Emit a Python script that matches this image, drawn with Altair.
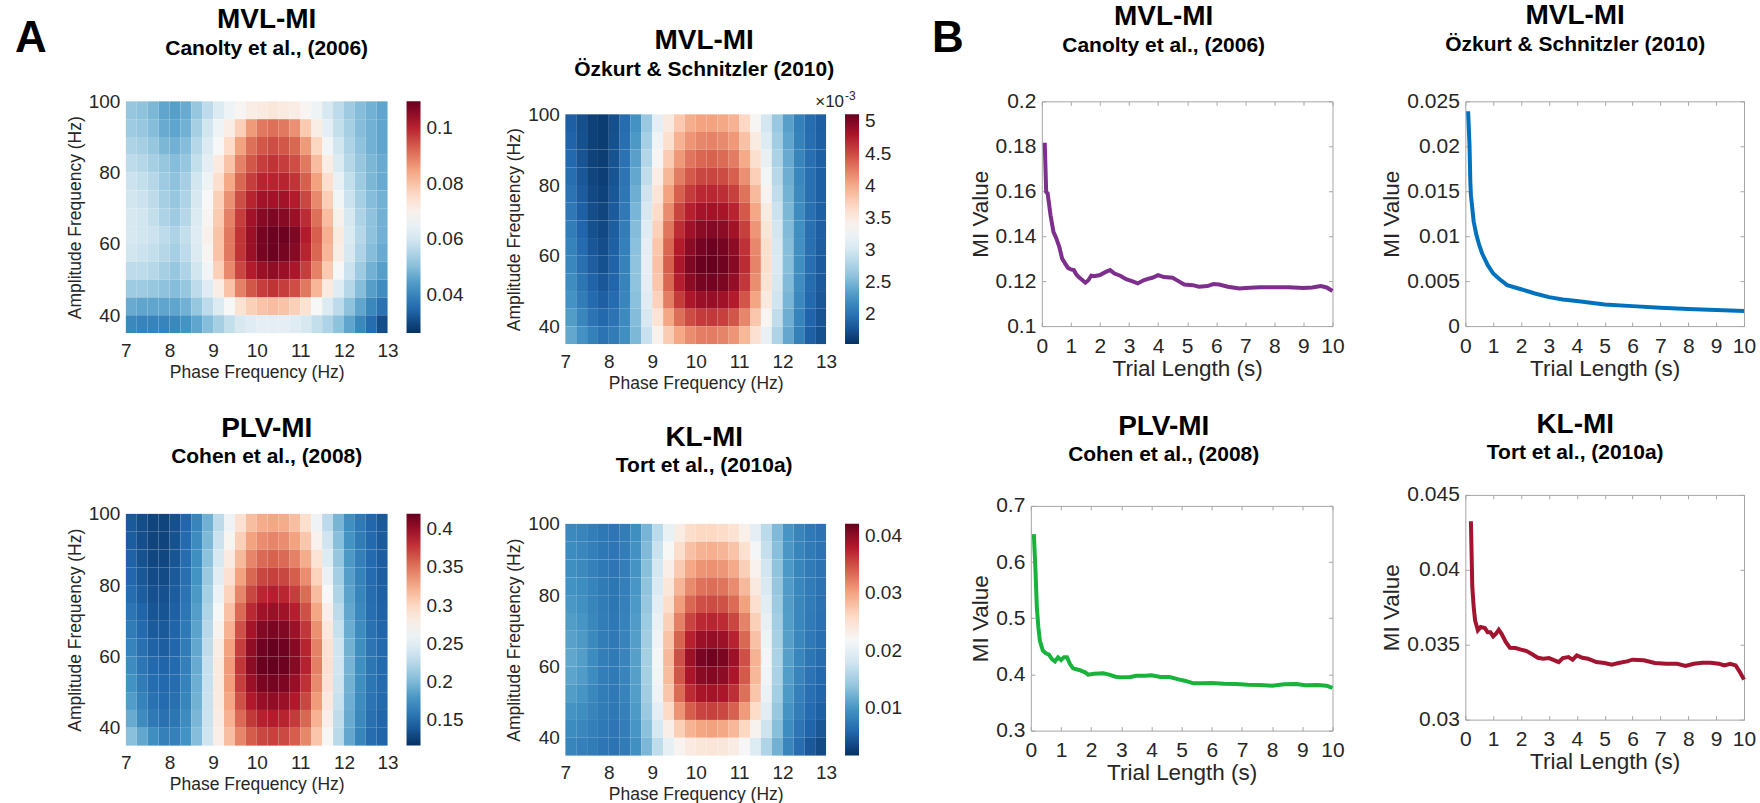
import altair as alt
import pandas as pd

FONT = "Liberation Sans"
INK = "#262626"
FRAME = "#a6a6a6"
LABEL_EXPR = "format(datum.value, '~g')"

# diverging red-blue colour steps, low (blue) to high (red)
RDBU = ["#053061", "#2166ac", "#4393c3", "#92c5de", "#d1e5f0", "#f7f7f7",
        "#fddbc7", "#f4a582", "#d6604d", "#b2182b", "#67001f"]

# ---- comodulogram grids: 0.25 Hz phase bins, 5 Hz amplitude bins (100 Hz row first) ----
PHASE_EDGES = [7.0, 7.25, 7.5, 7.75, 8.0, 8.25, 8.5, 8.75, 9.0, 9.25, 9.5, 9.75, 10.0,
               10.25, 10.5, 10.75, 11.0, 11.25, 11.5, 11.75, 12.0, 12.25, 12.5, 12.75, 13.0]
AMP_EDGES = [100, 95, 90, 85, 80, 75, 70, 65, 60, 55, 50, 45, 40, 35]

CANOLTY_GRID = [
    [0.052, 0.051, 0.049, 0.046, 0.045, 0.047, 0.052, 0.057, 0.062, 0.066, 0.069, 0.071, 0.072, 0.073, 0.072, 0.071, 0.069, 0.066, 0.061, 0.057, 0.053, 0.050, 0.048, 0.046],
    [0.053, 0.052, 0.050, 0.047, 0.046, 0.048, 0.054, 0.060, 0.066, 0.071, 0.078, 0.086, 0.090, 0.091, 0.090, 0.087, 0.079, 0.071, 0.064, 0.058, 0.054, 0.050, 0.048, 0.046],
    [0.055, 0.054, 0.052, 0.049, 0.048, 0.050, 0.056, 0.062, 0.068, 0.076, 0.085, 0.091, 0.094, 0.095, 0.094, 0.092, 0.086, 0.077, 0.067, 0.060, 0.055, 0.051, 0.048, 0.046],
    [0.057, 0.056, 0.054, 0.052, 0.050, 0.052, 0.058, 0.064, 0.072, 0.080, 0.089, 0.094, 0.097, 0.098, 0.097, 0.095, 0.090, 0.081, 0.071, 0.062, 0.056, 0.052, 0.049, 0.047],
    [0.059, 0.058, 0.056, 0.053, 0.051, 0.054, 0.060, 0.066, 0.075, 0.084, 0.092, 0.097, 0.100, 0.100, 0.100, 0.098, 0.093, 0.085, 0.075, 0.065, 0.058, 0.053, 0.049, 0.047],
    [0.060, 0.059, 0.057, 0.054, 0.052, 0.055, 0.061, 0.068, 0.078, 0.087, 0.095, 0.100, 0.103, 0.103, 0.103, 0.101, 0.096, 0.088, 0.078, 0.067, 0.059, 0.054, 0.050, 0.048],
    [0.061, 0.060, 0.058, 0.055, 0.053, 0.056, 0.062, 0.069, 0.079, 0.089, 0.097, 0.103, 0.106, 0.107, 0.106, 0.104, 0.099, 0.091, 0.081, 0.070, 0.061, 0.055, 0.051, 0.048],
    [0.061, 0.060, 0.059, 0.057, 0.055, 0.058, 0.063, 0.070, 0.080, 0.090, 0.098, 0.104, 0.108, 0.109, 0.109, 0.107, 0.101, 0.093, 0.083, 0.072, 0.062, 0.056, 0.051, 0.048],
    [0.060, 0.059, 0.058, 0.056, 0.054, 0.057, 0.062, 0.069, 0.080, 0.090, 0.098, 0.104, 0.108, 0.109, 0.108, 0.106, 0.100, 0.092, 0.082, 0.071, 0.061, 0.055, 0.050, 0.047],
    [0.057, 0.057, 0.056, 0.054, 0.052, 0.055, 0.060, 0.067, 0.078, 0.088, 0.096, 0.101, 0.104, 0.105, 0.104, 0.102, 0.097, 0.089, 0.079, 0.068, 0.059, 0.053, 0.048, 0.045],
    [0.053, 0.053, 0.052, 0.051, 0.050, 0.052, 0.057, 0.063, 0.071, 0.080, 0.089, 0.094, 0.097, 0.098, 0.097, 0.095, 0.090, 0.082, 0.072, 0.063, 0.056, 0.050, 0.045, 0.042],
    [0.047, 0.046, 0.046, 0.046, 0.046, 0.048, 0.052, 0.057, 0.062, 0.068, 0.074, 0.078, 0.080, 0.081, 0.080, 0.078, 0.074, 0.068, 0.062, 0.057, 0.051, 0.046, 0.041, 0.037],
    [0.041, 0.040, 0.040, 0.040, 0.041, 0.043, 0.046, 0.050, 0.054, 0.058, 0.061, 0.063, 0.064, 0.064, 0.064, 0.063, 0.061, 0.058, 0.055, 0.051, 0.046, 0.041, 0.036, 0.031],
]

# values in units of 1e-3
OZKURT_GRID = [
    [1.85, 1.75, 1.65, 1.62, 1.75, 1.95, 2.25, 2.65, 3.15, 3.50, 3.80, 3.98, 4.05, 4.05, 4.02, 3.95, 3.70, 3.35, 3.00, 2.65, 2.35, 2.10, 1.95, 1.85],
    [1.88, 1.76, 1.65, 1.62, 1.76, 1.97, 2.30, 2.72, 3.25, 3.62, 3.95, 4.12, 4.20, 4.22, 4.18, 4.10, 3.85, 3.48, 3.08, 2.70, 2.38, 2.12, 1.96, 1.86],
    [1.92, 1.78, 1.66, 1.63, 1.77, 1.99, 2.35, 2.80, 3.35, 3.78, 4.10, 4.28, 4.36, 4.38, 4.34, 4.25, 4.00, 3.62, 3.18, 2.76, 2.42, 2.14, 1.97, 1.86],
    [1.96, 1.80, 1.68, 1.64, 1.78, 2.01, 2.40, 2.88, 3.45, 3.92, 4.25, 4.43, 4.52, 4.53, 4.50, 4.40, 4.15, 3.76, 3.28, 2.82, 2.45, 2.16, 1.98, 1.86],
    [2.00, 1.83, 1.70, 1.66, 1.80, 2.03, 2.45, 2.96, 3.56, 4.05, 4.40, 4.58, 4.67, 4.68, 4.65, 4.55, 4.30, 3.90, 3.38, 2.88, 2.48, 2.18, 1.98, 1.86],
    [2.04, 1.86, 1.73, 1.68, 1.82, 2.05, 2.50, 3.03, 3.66, 4.17, 4.53, 4.72, 4.82, 4.83, 4.80, 4.70, 4.43, 4.02, 3.48, 2.94, 2.51, 2.20, 1.98, 1.86],
    [2.08, 1.90, 1.76, 1.70, 1.84, 2.08, 2.55, 3.10, 3.75, 4.28, 4.65, 4.85, 4.95, 4.97, 4.93, 4.83, 4.55, 4.12, 3.56, 3.00, 2.54, 2.22, 1.98, 1.85],
    [2.12, 1.94, 1.80, 1.73, 1.86, 2.10, 2.58, 3.15, 3.82, 4.36, 4.74, 4.95, 5.05, 5.08, 5.04, 4.93, 4.63, 4.19, 3.62, 3.04, 2.56, 2.23, 1.98, 1.84],
    [2.16, 1.98, 1.84, 1.76, 1.88, 2.12, 2.60, 3.17, 3.85, 4.40, 4.78, 5.00, 5.10, 5.11, 5.07, 4.96, 4.66, 4.21, 3.63, 3.05, 2.56, 2.22, 1.97, 1.83],
    [2.20, 2.02, 1.88, 1.80, 1.90, 2.13, 2.60, 3.15, 3.82, 4.36, 4.73, 4.94, 5.04, 5.05, 5.01, 4.90, 4.60, 4.16, 3.59, 3.02, 2.54, 2.20, 1.95, 1.82],
    [2.25, 2.08, 1.93, 1.85, 1.94, 2.15, 2.58, 3.10, 3.74, 4.24, 4.58, 4.78, 4.87, 4.88, 4.84, 4.74, 4.45, 4.03, 3.50, 2.97, 2.50, 2.17, 1.92, 1.80],
    [2.32, 2.15, 2.00, 1.92, 2.00, 2.18, 2.55, 3.02, 3.58, 4.02, 4.32, 4.50, 4.58, 4.59, 4.55, 4.45, 4.20, 3.82, 3.36, 2.88, 2.45, 2.13, 1.89, 1.78],
    [2.40, 2.25, 2.10, 2.00, 2.06, 2.22, 2.52, 2.92, 3.40, 3.78, 4.02, 4.17, 4.24, 4.25, 4.21, 4.12, 3.92, 3.60, 3.20, 2.78, 2.40, 2.10, 1.86, 1.76],
]

COHEN_GRID = [
    [0.140, 0.133, 0.128, 0.128, 0.135, 0.148, 0.168, 0.195, 0.228, 0.262, 0.292, 0.315, 0.325, 0.328, 0.325, 0.315, 0.295, 0.262, 0.228, 0.198, 0.175, 0.160, 0.148, 0.140],
    [0.142, 0.134, 0.128, 0.128, 0.136, 0.150, 0.172, 0.200, 0.236, 0.272, 0.305, 0.330, 0.340, 0.343, 0.340, 0.330, 0.310, 0.275, 0.238, 0.204, 0.178, 0.162, 0.149, 0.141],
    [0.145, 0.136, 0.130, 0.130, 0.138, 0.152, 0.175, 0.206, 0.244, 0.282, 0.318, 0.343, 0.355, 0.358, 0.355, 0.345, 0.325, 0.290, 0.248, 0.210, 0.181, 0.164, 0.150, 0.142],
    [0.148, 0.139, 0.132, 0.132, 0.140, 0.154, 0.178, 0.212, 0.252, 0.292, 0.330, 0.356, 0.370, 0.373, 0.370, 0.360, 0.340, 0.303, 0.258, 0.216, 0.184, 0.166, 0.151, 0.143],
    [0.152, 0.142, 0.135, 0.135, 0.142, 0.156, 0.181, 0.217, 0.260, 0.303, 0.343, 0.370, 0.384, 0.387, 0.384, 0.374, 0.354, 0.316, 0.268, 0.222, 0.187, 0.168, 0.152, 0.144],
    [0.157, 0.146, 0.138, 0.137, 0.144, 0.158, 0.184, 0.222, 0.268, 0.313, 0.355, 0.383, 0.397, 0.400, 0.397, 0.387, 0.366, 0.328, 0.277, 0.228, 0.190, 0.170, 0.153, 0.145],
    [0.162, 0.150, 0.141, 0.140, 0.146, 0.160, 0.187, 0.226, 0.274, 0.322, 0.366, 0.395, 0.409, 0.412, 0.409, 0.399, 0.377, 0.338, 0.285, 0.233, 0.193, 0.172, 0.155, 0.147],
    [0.167, 0.154, 0.145, 0.143, 0.148, 0.162, 0.190, 0.230, 0.280, 0.330, 0.374, 0.403, 0.417, 0.420, 0.417, 0.407, 0.385, 0.345, 0.291, 0.238, 0.196, 0.174, 0.157, 0.149],
    [0.172, 0.158, 0.149, 0.146, 0.150, 0.164, 0.192, 0.233, 0.283, 0.333, 0.377, 0.405, 0.419, 0.421, 0.418, 0.408, 0.386, 0.346, 0.292, 0.239, 0.197, 0.175, 0.158, 0.150],
    [0.177, 0.162, 0.152, 0.149, 0.152, 0.166, 0.194, 0.234, 0.283, 0.332, 0.374, 0.400, 0.412, 0.414, 0.411, 0.401, 0.380, 0.341, 0.289, 0.237, 0.196, 0.174, 0.158, 0.150],
    [0.183, 0.166, 0.155, 0.151, 0.154, 0.168, 0.196, 0.235, 0.282, 0.328, 0.366, 0.390, 0.401, 0.403, 0.400, 0.390, 0.370, 0.333, 0.284, 0.234, 0.194, 0.172, 0.156, 0.149],
    [0.192, 0.172, 0.160, 0.155, 0.158, 0.172, 0.199, 0.236, 0.280, 0.322, 0.355, 0.376, 0.386, 0.388, 0.385, 0.375, 0.356, 0.322, 0.277, 0.230, 0.192, 0.170, 0.154, 0.147],
    [0.205, 0.190, 0.175, 0.165, 0.165, 0.177, 0.203, 0.238, 0.278, 0.315, 0.343, 0.361, 0.370, 0.372, 0.369, 0.360, 0.342, 0.311, 0.270, 0.227, 0.190, 0.168, 0.152, 0.146],
]

TORT_GRID = [
    [0.0090, 0.0086, 0.0080, 0.0074, 0.0072, 0.0078, 0.0095, 0.0125, 0.0165, 0.0205, 0.0235, 0.0255, 0.0262, 0.0262, 0.0258, 0.0250, 0.0230, 0.0200, 0.0165, 0.0130, 0.0100, 0.0085, 0.0075, 0.0070],
    [0.0092, 0.0088, 0.0081, 0.0074, 0.0072, 0.0079, 0.0097, 0.0130, 0.0175, 0.0220, 0.0255, 0.0280, 0.0290, 0.0292, 0.0288, 0.0278, 0.0252, 0.0215, 0.0172, 0.0134, 0.0102, 0.0086, 0.0076, 0.0070],
    [0.0095, 0.0090, 0.0082, 0.0075, 0.0072, 0.0080, 0.0099, 0.0134, 0.0183, 0.0232, 0.0272, 0.0298, 0.0310, 0.0312, 0.0308, 0.0296, 0.0268, 0.0228, 0.0180, 0.0138, 0.0103, 0.0087, 0.0076, 0.0070],
    [0.0098, 0.0093, 0.0084, 0.0076, 0.0073, 0.0081, 0.0101, 0.0138, 0.0190, 0.0244, 0.0288, 0.0316, 0.0330, 0.0332, 0.0328, 0.0315, 0.0285, 0.0240, 0.0188, 0.0142, 0.0105, 0.0088, 0.0077, 0.0070],
    [0.0102, 0.0096, 0.0086, 0.0077, 0.0073, 0.0082, 0.0103, 0.0142, 0.0198, 0.0256, 0.0305, 0.0336, 0.0350, 0.0352, 0.0348, 0.0334, 0.0302, 0.0254, 0.0196, 0.0146, 0.0106, 0.0088, 0.0077, 0.0069],
    [0.0106, 0.0100, 0.0088, 0.0078, 0.0074, 0.0083, 0.0105, 0.0146, 0.0205, 0.0268, 0.0322, 0.0356, 0.0372, 0.0374, 0.0370, 0.0355, 0.0320, 0.0268, 0.0204, 0.0150, 0.0107, 0.0088, 0.0076, 0.0068],
    [0.0110, 0.0104, 0.0090, 0.0079, 0.0075, 0.0084, 0.0107, 0.0149, 0.0211, 0.0278, 0.0338, 0.0376, 0.0394, 0.0397, 0.0392, 0.0375, 0.0336, 0.0280, 0.0210, 0.0153, 0.0108, 0.0088, 0.0075, 0.0066],
    [0.0114, 0.0107, 0.0092, 0.0080, 0.0076, 0.0085, 0.0108, 0.0151, 0.0215, 0.0285, 0.0350, 0.0392, 0.0412, 0.0416, 0.0411, 0.0392, 0.0350, 0.0290, 0.0215, 0.0155, 0.0108, 0.0087, 0.0073, 0.0064],
    [0.0112, 0.0105, 0.0091, 0.0080, 0.0076, 0.0085, 0.0108, 0.0151, 0.0214, 0.0283, 0.0346, 0.0385, 0.0403, 0.0406, 0.0401, 0.0384, 0.0344, 0.0286, 0.0213, 0.0154, 0.0107, 0.0085, 0.0070, 0.0061],
    [0.0106, 0.0100, 0.0088, 0.0079, 0.0075, 0.0084, 0.0107, 0.0149, 0.0210, 0.0276, 0.0334, 0.0370, 0.0386, 0.0388, 0.0384, 0.0368, 0.0331, 0.0276, 0.0207, 0.0150, 0.0104, 0.0082, 0.0067, 0.0058],
    [0.0099, 0.0094, 0.0085, 0.0077, 0.0074, 0.0082, 0.0104, 0.0144, 0.0200, 0.0260, 0.0310, 0.0342, 0.0356, 0.0358, 0.0354, 0.0340, 0.0306, 0.0258, 0.0196, 0.0143, 0.0099, 0.0078, 0.0063, 0.0054],
    [0.0092, 0.0088, 0.0081, 0.0075, 0.0072, 0.0080, 0.0100, 0.0136, 0.0185, 0.0232, 0.0268, 0.0290, 0.0300, 0.0302, 0.0298, 0.0287, 0.0262, 0.0226, 0.0178, 0.0134, 0.0093, 0.0072, 0.0057, 0.0047],
    [0.0086, 0.0082, 0.0077, 0.0072, 0.0070, 0.0077, 0.0096, 0.0128, 0.0168, 0.0202, 0.0225, 0.0238, 0.0244, 0.0245, 0.0242, 0.0235, 0.0218, 0.0192, 0.0158, 0.0123, 0.0087, 0.0065, 0.0048, 0.0038],
]

# ---- MI value versus trial length ----
TRIAL_CANOLTY = [0.1, 0.15, 0.2, 0.3, 0.4, 0.5, 0.6, 0.7, 0.8, 0.9, 1.0, 1.1, 1.2, 1.3, 1.4, 1.5,
                 1.6, 1.7, 1.8, 2.0, 2.2, 2.35, 2.5, 2.7, 2.9, 3.1, 3.3, 3.5, 3.7, 3.8, 4.0, 4.2,
                 4.5, 4.7, 4.9, 5.2, 5.4, 5.7, 5.9, 6.1, 6.4, 6.8, 7.0, 7.5, 8.0, 8.5, 9.0, 9.3,
                 9.6, 9.8, 10.0]
MI_CANOLTY = [0.1816, 0.1597, 0.159, 0.1493, 0.1419, 0.139, 0.1353, 0.130, 0.1279, 0.1259, 0.1252,
              0.1249, 0.1227, 0.1215, 0.1204, 0.1193, 0.1204, 0.1224, 0.1222, 0.1227, 0.1241, 0.1249,
              0.1234, 0.1224, 0.1209, 0.12, 0.119, 0.1204, 0.1212, 0.1215, 0.1227, 0.1218, 0.1215,
              0.12, 0.1185, 0.1182, 0.1175, 0.1178, 0.1187, 0.1185, 0.1175, 0.1167, 0.1169, 0.1173,
              0.1173, 0.1173, 0.117, 0.1172, 0.1178, 0.1172, 0.1156]

TRIAL_OZKURT = [0.1, 0.15, 0.18, 0.2, 0.3, 0.4, 0.5, 0.6, 0.7, 0.8, 1.0, 1.2, 1.5, 2.0, 2.5, 3.0,
                3.5, 4.0, 5.0, 6.0, 7.0, 8.0, 9.0, 10.0]
MI_OZKURT = [0.0239, 0.0201, 0.016, 0.01456, 0.0116, 0.0101, 0.009, 0.0081, 0.00744, 0.0068,
             0.00585, 0.0053, 0.00456, 0.0041, 0.00363, 0.00322, 0.00296, 0.00278, 0.0024,
             0.00222, 0.00204, 0.0019, 0.00178, 0.00167]

TRIAL_COHEN = [0.1, 0.15, 0.2, 0.25, 0.3, 0.4, 0.5, 0.6, 0.7, 0.8, 0.9, 1.0, 1.1, 1.2, 1.3, 1.4,
               1.6, 1.8, 1.9, 2.1, 2.4, 2.6, 2.8, 3.0, 3.3, 3.5, 3.8, 4.0, 4.3, 4.6, 4.9, 5.1,
               5.4, 5.7, 6.0, 6.4, 6.8, 7.2, 7.6, 8.0, 8.4, 8.8, 9.1, 9.5, 9.8, 10.0]
MI_COHEN = [0.6496, 0.5904, 0.519, 0.4837, 0.46, 0.4422, 0.4375, 0.4351, 0.4274, 0.4233, 0.4304,
            0.4256, 0.4304, 0.4304, 0.4185, 0.4108, 0.4079, 0.4037, 0.3996, 0.4013, 0.4019,
            0.3996, 0.396, 0.3948, 0.3954, 0.3978, 0.3978, 0.3984, 0.3954, 0.3954, 0.3913,
            0.3889, 0.3842, 0.3842, 0.3847, 0.3836, 0.383, 0.3818, 0.3812, 0.38, 0.3824, 0.383,
            0.3806, 0.3812, 0.38, 0.3759]

TRIAL_TORT = [0.2, 0.25, 0.3, 0.35, 0.45, 0.55, 0.7, 0.8, 0.9, 1.0, 1.1, 1.2, 1.3, 1.45, 1.6, 1.8,
              2.0, 2.2, 2.4, 2.6, 2.8, 3.0, 3.2, 3.35, 3.5, 3.7, 3.85, 4.0, 4.2, 4.4, 4.7, 5.0,
              5.25, 5.5, 5.8, 6.0, 6.4, 6.8, 7.2, 7.6, 7.9, 8.2, 8.5, 8.8, 9.1, 9.3, 9.5, 9.7,
              9.85, 10.0]
MI_TORT = [0.04324, 0.03884, 0.03751, 0.03662, 0.03596, 0.03618, 0.03611, 0.03584, 0.03584,
           0.03556, 0.03573, 0.036, 0.03573, 0.03518, 0.0348, 0.03478, 0.03467, 0.03458, 0.03436,
           0.03413, 0.03407, 0.03411, 0.03396, 0.03384, 0.03411, 0.03418, 0.034, 0.03429, 0.03413,
           0.03407, 0.03384, 0.03378, 0.03367, 0.03378, 0.03389, 0.034, 0.03396, 0.03378, 0.03373,
           0.03373, 0.03358, 0.03373, 0.0338, 0.0338, 0.03373, 0.03362, 0.03373, 0.03362, 0.03318,
           0.03267]

PHASE_TICKS = [7, 8, 9, 10, 11, 12, 13]
AMP_TICKS = [40, 60, 80, 100]
TRIAL_TICKS = [0, 1, 2, 3, 4, 5, 6, 7, 8, 9, 10]


def grid_frame(grid):
    rows = []
    for i, row in enumerate(grid):
        for j, v in enumerate(row):
            rows.append({"p0": PHASE_EDGES[j], "p1": PHASE_EDGES[j + 1],
                         "a0": AMP_EDGES[i + 1], "a1": AMP_EDGES[i], "mi": v})
    return pd.DataFrame(rows)


def panel_title(text, subtitle, offset, dx):
    return alt.TitleParams(
        text=text, subtitle=subtitle, anchor="middle", frame="group",
        font=FONT, fontSize=28, fontWeight="bold", color="black",
        subtitleFont=FONT, subtitleFontSize=21, subtitleFontWeight="bold",
        subtitleColor="black", subtitlePadding=3.5, offset=offset, dx=dx,
    )


def comodulogram(grid, cdomain, cticks, title, subtitle, t_offset, t_dx,
                 width, height, plot_top=0):
    plot_h = height - plot_top
    y_kw = dict(domain=[35, 100], nice=False, zero=False)
    if plot_top:
        y_kw["range"] = [height, plot_top]
    lo, hi = cdomain
    stops = [lo + (hi - lo) * k / (len(RDBU) - 1) for k in range(len(RDBU))]
    cscale = alt.Scale(domain=stops, range=RDBU, interpolate="rgb", clamp=True)
    return alt.Chart(grid_frame(grid)).mark_rect().encode(
        x=alt.X("p0:Q", scale=alt.Scale(domain=[7, 13], nice=False, zero=False),
                axis=alt.Axis(values=PHASE_TICKS, labelExpr=LABEL_EXPR, domain=False,
                              ticks=False, tickSize=0, grid=False, labelFontSize=19,
                              labelPadding=8, labelFlush=False,
                              title="Phase Frequency (Hz)", titleFontSize=17.5,
                              titlePadding=3)),
        x2="p1",
        y=alt.Y("a0:Q", scale=alt.Scale(**y_kw),
                axis=alt.Axis(values=AMP_TICKS, labelExpr=LABEL_EXPR, domain=False,
                              ticks=False, tickSize=0, grid=False, labelFontSize=19,
                              labelPadding=6, labelFlush=False,
                              title="Amplitude Frequency (Hz)", titleFontSize=17.5,
                              titlePadding=4)),
        y2="a1",
        color=alt.Color("mi:Q", scale=cscale, title=None,
                        legend=alt.Legend(type="gradient", orient="none",
                                          legendX=width + 19, legendY=plot_top,
                                          direction="vertical", gradientLength=plot_h,
                                          gradientThickness=14, gradientStrokeWidth=0,
                                          values=cticks, labelExpr=LABEL_EXPR,
                                          labelFont=FONT, labelFontSize=19, labelColor=INK,
                                          labelOffset=6, labelOverlap=False, padding=0)),
    ).properties(width=width, height=height,
                 title=panel_title(title, subtitle, t_offset, t_dx))


def trial_curve(t, v, color, ydom, yticks, title, subtitle, t_offset, t_dx,
                width, plot_left=0, height=225):
    df = pd.DataFrame({"t": t, "mi": v})
    x_kw = dict(domain=[0, 10], nice=False, zero=False)
    if plot_left:
        x_kw["range"] = [plot_left, width]
    xs = alt.Scale(**x_kw)
    ys = alt.Scale(domain=ydom, nice=False, zero=False)
    plot_w = width - plot_left

    line = alt.Chart(df).mark_line(color=color, strokeWidth=4).encode(
        x=alt.X("t:Q", scale=xs,
                axis=alt.Axis(values=TRIAL_TICKS, labelExpr=LABEL_EXPR, ticks=False,
                              tickSize=0, grid=False, domainColor=FRAME, labelFontSize=21,
                              labelPadding=9, labelOverlap=False, labelFlush=False,
                              title="Trial Length (s)", titleFontSize=22.5, titlePadding=1)),
        y=alt.Y("mi:Q", scale=ys,
                axis=alt.Axis(values=yticks, labelExpr=LABEL_EXPR, ticks=False, tickSize=0,
                              grid=False, domainColor=FRAME, labelFontSize=21,
                              labelPadding=6, labelOverlap=False, labelFlush=False,
                              title="MI Value", titleFontSize=22.5, titlePadding=3,
                              offset=-plot_left)),
    )
    # top and right edges of the box
    box = alt.Chart(df).mark_line(strokeOpacity=0).encode(
        x=alt.X("t:Q", scale=xs,
                axis=alt.Axis(orient="top", labels=False, ticks=False, grid=False,
                              domainColor=FRAME, title=None)),
        y=alt.Y("mi:Q", scale=ys,
                axis=alt.Axis(orient="right", labels=False, ticks=False, grid=False,
                              domainColor=FRAME, title=None)),
    )
    # inward tick marks: each axis is flipped onto the opposite edge of the box
    tick_kw = dict(labels=False, domain=False, ticks=True, tickSize=4, tickColor=FRAME,
                   tickWidth=1, grid=False, title=None)
    ticks_low = alt.Chart(df).mark_line(strokeOpacity=0).encode(
        x=alt.X("t:Q", scale=xs,
                axis=alt.Axis(orient="top", offset=-height, values=TRIAL_TICKS, **tick_kw)),
        y=alt.Y("mi:Q", scale=ys,
                axis=alt.Axis(orient="right", offset=-plot_w, values=yticks, **tick_kw)),
    )
    ticks_high = alt.Chart(df).mark_line(strokeOpacity=0).encode(
        x=alt.X("t:Q", scale=xs,
                axis=alt.Axis(orient="bottom", offset=-height, values=TRIAL_TICKS, **tick_kw)),
        y=alt.Y("mi:Q", scale=ys,
                axis=alt.Axis(orient="left", offset=-width, values=yticks, **tick_kw)),
    )
    return alt.layer(line, box, ticks_low, ticks_high).resolve_axis(
        x="independent", y="independent"
    ).properties(width=width, height=height,
                 title=panel_title(title, subtitle, t_offset, t_dx))


heat_canolty = comodulogram(CANOLTY_GRID, [0.0264, 0.1096], [0.04, 0.06, 0.08, 0.1],
                            "MVL-MI", "Canolty et al., (2006)", 33.5, 10, 262, 232)
heat_ozkurt = comodulogram(OZKURT_GRID, [1.54, 5.11], [2, 2.5, 3, 3.5, 4, 4.5, 5],
                           "MVL-MI", "Özkurt & Schnitzler (2010)", 21.5, 8.5, 261, 243,
                           plot_top=13)
heat_cohen = comodulogram(COHEN_GRID, [0.117, 0.42], [0.15, 0.2, 0.25, 0.3, 0.35, 0.4],
                          "PLV-MI", "Cohen et al., (2008)", 37.5, 10, 262, 232)
heat_tort = comodulogram(TORT_GRID, [0.0018, 0.0421], [0.01, 0.02, 0.03, 0.04],
                         "KL-MI", "Tort et al., (2010a)", 38.5, 8.5, 261, 232)

curve_canolty = trial_curve(TRIAL_CANOLTY, MI_CANOLTY, "#7E2F8E", [0.1, 0.2],
                            [0.1, 0.12, 0.14, 0.16, 0.18, 0.2], "MVL-MI",
                            "Canolty et al., (2006)", 34.5, -18, 302, plot_left=11)
curve_ozkurt = trial_curve(TRIAL_OZKURT, MI_OZKURT, "#0072BD", [0, 0.025],
                           [0, 0.005, 0.01, 0.015, 0.02, 0.025], "MVL-MI",
                           "Özkurt & Schnitzler (2010)", 35.5, -29.5, 279)
curve_cohen = trial_curve(TRIAL_COHEN, MI_COHEN, "#17B33B", [0.3, 0.7],
                          [0.3, 0.4, 0.5, 0.6, 0.7], "PLV-MI", "Cohen et al., (2008)",
                          29.5, -18, 302)
curve_tort = trial_curve(TRIAL_TORT, MI_TORT, "#A2142F", [0.03, 0.045],
                         [0.03, 0.035, 0.04, 0.045], "KL-MI", "Tort et al., (2010a)",
                         20.5, -29.5, 279)

# panel letters and the colour-bar exponent
one = pd.DataFrame({"k": [0]})
letters = alt.layer(
    alt.Chart(one).mark_text(text="A", font=FONT, fontSize=44, fontWeight="bold",
                             color="black", align="left", baseline="alphabetic")
    .encode(x=alt.value(0), y=alt.value(-49)),
    alt.Chart(one).mark_text(text="B", font=FONT, fontSize=44, fontWeight="bold",
                             color="black", align="left", baseline="alphabetic")
    .encode(x=alt.value(918), y=alt.value(-49)),
    alt.Chart(one).mark_text(text="×10", font=FONT, fontSize=17, color=INK,
                             align="right", baseline="alphabetic")
    .encode(x=alt.value(830), y=alt.value(6)),
    alt.Chart(one).mark_text(text="-3", font=FONT, fontSize=12, color=INK,
                             align="left", baseline="alphabetic")
    .encode(x=alt.value(831), y=alt.value(-1)),
).properties(width=111, height=1)

# With flush bounds a nested concat counts as zero-sized, so each spacing below is
# the full stride from the left edge of one column block to the next.
col1 = alt.vconcat(heat_canolty, heat_cohen, spacing=181, bounds="flush").resolve_scale(color="independent")
col2 = alt.vconcat(heat_ozkurt, heat_tort, spacing=180, bounds="flush").resolve_scale(color="independent")
col3 = alt.vconcat(curve_canolty, curve_cohen, spacing=180, bounds="flush")
col4 = alt.vconcat(curve_ozkurt, curve_tort, spacing=169, bounds="flush")

right_pair = alt.hconcat(col3, col4, spacing=302 + 133, bounds="flush")
middle = alt.hconcat(col2, right_pair, spacing=261 + 205, bounds="flush").resolve_scale(color="independent")
panels = alt.hconcat(col1, middle, spacing=262 + 178, bounds="flush").resolve_scale(color="independent")

chart = alt.hconcat(letters, panels, spacing=0, bounds="flush").resolve_scale(
    color="independent"
).properties(
    padding={"left": 15, "top": 2, "right": 4, "bottom": 0}
).configure(
    font=FONT
).configure_axis(
    labelFont=FONT, titleFont=FONT, labelColor=INK, titleColor=INK,
    titleFontWeight="normal"
).configure_view(strokeWidth=0)

chart.save("out.html", embed_options={"renderer": "svg", "actions": False})
